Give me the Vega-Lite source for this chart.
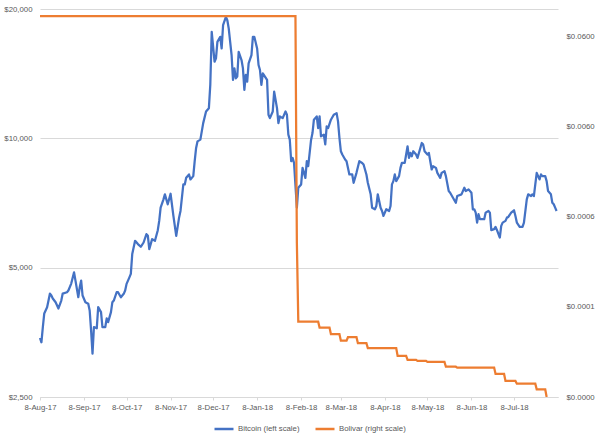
{
  "$schema": "https://vega.github.io/schema/vega-lite/v6.json",
  "width": 518,
  "height": 388,
  "autosize": {"type": "none"},
  "padding": {"left": 40, "top": 9, "right": 44, "bottom": 40},
  "background": "white",
  "config": {
    "view": {"stroke": null},
    "font": "Liberation Sans",
    "axis": {"labelColor": "#595959", "labelFontSize": 7.8, "title": null, "labelFont": "Liberation Sans"},
    "legend": {"labelFont": "Liberation Sans"}
  },
  "datasets": {
    "btc": [
      {"date": "2017-08-08", "price": 3430}, {"date": "2017-08-09", "price": 3352}, {"date": "2017-08-10", "price": 3637}, {"date": "2017-08-11", "price": 3912},
      {"date": "2017-08-13", "price": 4046}, {"date": "2017-08-14", "price": 4193}, {"date": "2017-08-15", "price": 4352}, {"date": "2017-08-16", "price": 4307},
      {"date": "2017-08-17", "price": 4238}, {"date": "2017-08-19", "price": 4155}, {"date": "2017-08-21", "price": 4018}, {"date": "2017-08-23", "price": 4193},
      {"date": "2017-08-24", "price": 4352}, {"date": "2017-08-27", "price": 4383}, {"date": "2017-08-28", "price": 4423}, {"date": "2017-08-30", "price": 4591},
      {"date": "2017-09-01", "price": 4876}, {"date": "2017-09-02", "price": 4665}, {"date": "2017-09-04", "price": 4268}, {"date": "2017-09-05", "price": 4502},
      {"date": "2017-09-06", "price": 4665}, {"date": "2017-09-07", "price": 4307}, {"date": "2017-09-09", "price": 4155}, {"date": "2017-09-11", "price": 4121},
      {"date": "2017-09-12", "price": 3975}, {"date": "2017-09-13", "price": 3573}, {"date": "2017-09-14", "price": 3155}, {"date": "2017-09-15", "price": 3637},
      {"date": "2017-09-17", "price": 3612}, {"date": "2017-09-18", "price": 4046}, {"date": "2017-09-20", "price": 3940}, {"date": "2017-09-21", "price": 3637},
      {"date": "2017-09-23", "price": 3637}, {"date": "2017-09-24", "price": 3810}, {"date": "2017-09-25", "price": 3735}, {"date": "2017-09-27", "price": 3940},
      {"date": "2017-09-28", "price": 4155}, {"date": "2017-09-29", "price": 4193}, {"date": "2017-10-01", "price": 4383}, {"date": "2017-10-02", "price": 4383},
      {"date": "2017-10-04", "price": 4268}, {"date": "2017-10-06", "price": 4346}, {"date": "2017-10-07", "price": 4423}, {"date": "2017-10-08", "price": 4584},
      {"date": "2017-10-10", "price": 4747}, {"date": "2017-10-11", "price": 4835}, {"date": "2017-10-12", "price": 5379}, {"date": "2017-10-14", "price": 5774},
      {"date": "2017-10-16", "price": 5673}, {"date": "2017-10-18", "price": 5592}, {"date": "2017-10-20", "price": 5722}, {"date": "2017-10-22", "price": 5984},
      {"date": "2017-10-23", "price": 5930}, {"date": "2017-10-24", "price": 5524}, {"date": "2017-10-26", "price": 5827}, {"date": "2017-10-28", "price": 5774},
      {"date": "2017-10-30", "price": 6113}, {"date": "2017-10-31", "price": 6425}, {"date": "2017-11-01", "price": 6896}, {"date": "2017-11-03", "price": 7212},
      {"date": "2017-11-04", "price": 7407}, {"date": "2017-11-06", "price": 7022}, {"date": "2017-11-08", "price": 7430}, {"date": "2017-11-10", "price": 6598},
      {"date": "2017-11-12", "price": 5930}, {"date": "2017-11-14", "price": 6538}, {"date": "2017-11-15", "price": 6776}, {"date": "2017-11-17", "price": 7812},
      {"date": "2017-11-18", "price": 7812}, {"date": "2017-11-19", "price": 8092}, {"date": "2017-11-21", "price": 8240}, {"date": "2017-11-22", "price": 8024},
      {"date": "2017-11-24", "price": 8167}, {"date": "2017-11-25", "price": 8846}, {"date": "2017-11-26", "price": 9497}, {"date": "2017-11-27", "price": 9840},
      {"date": "2017-11-29", "price": 9930}, {"date": "2017-12-01", "price": 10850}, {"date": "2017-12-03", "price": 11550}, {"date": "2017-12-05", "price": 11756},
      {"date": "2017-12-06", "price": 13338}, {"date": "2017-12-07", "price": 17694}, {"date": "2017-12-09", "price": 15077}, {"date": "2017-12-10", "price": 15346},
      {"date": "2017-12-11", "price": 16773}, {"date": "2017-12-13", "price": 17228}, {"date": "2017-12-14", "price": 16185}, {"date": "2017-12-15", "price": 18336},
      {"date": "2017-12-17", "price": 19165}, {"date": "2017-12-18", "price": 18831}, {"date": "2017-12-19", "price": 18006}, {"date": "2017-12-20", "price": 16773},
      {"date": "2017-12-21", "price": 15626}, {"date": "2017-12-22", "price": 13676}, {"date": "2017-12-23", "price": 14548}, {"date": "2017-12-24", "price": 13792},
      {"date": "2017-12-25", "price": 13918}, {"date": "2017-12-26", "price": 15903}, {"date": "2017-12-28", "price": 15215}, {"date": "2017-12-29", "price": 14548},
      {"date": "2017-12-30", "price": 12966}, {"date": "2017-12-31", "price": 14044}, {"date": "2018-01-01", "price": 13551}, {"date": "2018-01-02", "price": 14941},
      {"date": "2018-01-04", "price": 15626}, {"date": "2018-01-05", "price": 17228}, {"date": "2018-01-06", "price": 17228}, {"date": "2018-01-08", "price": 16185},
      {"date": "2018-01-09", "price": 14813}, {"date": "2018-01-10", "price": 14423}, {"date": "2018-01-11", "price": 13315}, {"date": "2018-01-12", "price": 14166},
      {"date": "2018-01-15", "price": 13676}, {"date": "2018-01-16", "price": 11349}, {"date": "2018-01-17", "price": 11145}, {"date": "2018-01-19", "price": 11550},
      {"date": "2018-01-20", "price": 12848}, {"date": "2018-01-22", "price": 11756}, {"date": "2018-01-23", "price": 10850}, {"date": "2018-01-24", "price": 11245},
      {"date": "2018-01-26", "price": 11145}, {"date": "2018-01-28", "price": 11550}, {"date": "2018-01-29", "price": 11349}, {"date": "2018-01-30", "price": 10200},
      {"date": "2018-01-31", "price": 9930}, {"date": "2018-02-01", "price": 8846}, {"date": "2018-02-02", "price": 9003}, {"date": "2018-02-03", "price": 8765},
      {"date": "2018-02-05", "price": 6896}, {"date": "2018-02-06", "price": 7672}, {"date": "2018-02-08", "price": 7812}, {"date": "2018-02-09", "price": 8535},
      {"date": "2018-02-11", "price": 8092}, {"date": "2018-02-12", "price": 8846}, {"date": "2018-02-13", "price": 8613}, {"date": "2018-02-15", "price": 9915},
      {"date": "2018-02-16", "price": 10287}, {"date": "2018-02-17", "price": 11050}, {"date": "2018-02-19", "price": 11245}, {"date": "2018-02-20", "price": 10566},
      {"date": "2018-02-21", "price": 11245}, {"date": "2018-02-22", "price": 10108}, {"date": "2018-02-24", "price": 10200}, {"date": "2018-02-25", "price": 9686},
      {"date": "2018-02-26", "price": 10660}, {"date": "2018-02-27", "price": 10566}, {"date": "2018-03-01", "price": 11050}, {"date": "2018-03-03", "price": 11349},
      {"date": "2018-03-05", "price": 11445}, {"date": "2018-03-06", "price": 10950}, {"date": "2018-03-07", "price": 10017}, {"date": "2018-03-08", "price": 9330},
      {"date": "2018-03-09", "price": 9168}, {"date": "2018-03-11", "price": 8927}, {"date": "2018-03-12", "price": 8846}, {"date": "2018-03-14", "price": 8240},
      {"date": "2018-03-16", "price": 8240}, {"date": "2018-03-17", "price": 7879}, {"date": "2018-03-19", "price": 8311}, {"date": "2018-03-21", "price": 8846},
      {"date": "2018-03-23", "price": 8765}, {"date": "2018-03-24", "price": 8692}, {"date": "2018-03-26", "price": 8240}, {"date": "2018-03-27", "price": 7879},
      {"date": "2018-03-29", "price": 7407}, {"date": "2018-03-30", "price": 6896}, {"date": "2018-04-01", "price": 6837}, {"date": "2018-04-02", "price": 6959},
      {"date": "2018-04-03", "price": 7407}, {"date": "2018-04-05", "price": 6896}, {"date": "2018-04-06", "price": 6776}, {"date": "2018-04-07", "price": 6598},
      {"date": "2018-04-09", "price": 6837}, {"date": "2018-04-11", "price": 6776}, {"date": "2018-04-12", "price": 6959}, {"date": "2018-04-13", "price": 7812},
      {"date": "2018-04-14", "price": 7951}, {"date": "2018-04-15", "price": 8240}, {"date": "2018-04-16", "price": 7951}, {"date": "2018-04-18", "price": 8167},
      {"date": "2018-04-19", "price": 8535}, {"date": "2018-04-20", "price": 8765}, {"date": "2018-04-22", "price": 8765}, {"date": "2018-04-23", "price": 9168},
      {"date": "2018-04-24", "price": 9583}, {"date": "2018-04-25", "price": 9003}, {"date": "2018-04-26", "price": 9247}, {"date": "2018-04-27", "price": 9085},
      {"date": "2018-04-28", "price": 9330}, {"date": "2018-04-30", "price": 9168}, {"date": "2018-05-01", "price": 9003}, {"date": "2018-05-03", "price": 9497},
      {"date": "2018-05-04", "price": 9753}, {"date": "2018-05-05", "price": 9669}, {"date": "2018-05-06", "price": 9330}, {"date": "2018-05-08", "price": 9168},
      {"date": "2018-05-09", "price": 9247}, {"date": "2018-05-11", "price": 8464}, {"date": "2018-05-12", "price": 8613}, {"date": "2018-05-14", "price": 8535},
      {"date": "2018-05-15", "price": 8311}, {"date": "2018-05-17", "price": 8092}, {"date": "2018-05-18", "price": 8311}, {"date": "2018-05-20", "price": 8387},
      {"date": "2018-05-21", "price": 8167}, {"date": "2018-05-23", "price": 7538}, {"date": "2018-05-24", "price": 7471}, {"date": "2018-05-26", "price": 7274},
      {"date": "2018-05-28", "price": 7082}, {"date": "2018-05-29", "price": 7340}, {"date": "2018-06-01", "price": 7407}, {"date": "2018-06-03", "price": 7672},
      {"date": "2018-06-04", "price": 7538}, {"date": "2018-06-06", "price": 7607}, {"date": "2018-06-08", "price": 7471}, {"date": "2018-06-09", "price": 6837},
      {"date": "2018-06-10", "price": 6837}, {"date": "2018-06-11", "price": 6715}, {"date": "2018-06-12", "price": 6366}, {"date": "2018-06-13", "price": 6658},
      {"date": "2018-06-14", "price": 6482}, {"date": "2018-06-15", "price": 6482}, {"date": "2018-06-17", "price": 6482}, {"date": "2018-06-18", "price": 6715},
      {"date": "2018-06-20", "price": 6776}, {"date": "2018-06-21", "price": 6715}, {"date": "2018-06-22", "price": 6113}, {"date": "2018-06-24", "price": 6146},
      {"date": "2018-06-25", "price": 6222}, {"date": "2018-06-26", "price": 6113}, {"date": "2018-06-28", "price": 5877}, {"date": "2018-06-29", "price": 6255},
      {"date": "2018-06-30", "price": 6366}, {"date": "2018-07-02", "price": 6425}, {"date": "2018-07-03", "price": 6538}, {"date": "2018-07-04", "price": 6563},
      {"date": "2018-07-06", "price": 6715}, {"date": "2018-07-08", "price": 6801}, {"date": "2018-07-09", "price": 6598}, {"date": "2018-07-10", "price": 6366},
      {"date": "2018-07-12", "price": 6222}, {"date": "2018-07-14", "price": 6222}, {"date": "2018-07-15", "price": 6366}, {"date": "2018-07-17", "price": 7212},
      {"date": "2018-07-18", "price": 7407}, {"date": "2018-07-20", "price": 7340}, {"date": "2018-07-21", "price": 7407}, {"date": "2018-07-22", "price": 7340},
      {"date": "2018-07-23", "price": 7812}, {"date": "2018-07-24", "price": 8311}, {"date": "2018-07-26", "price": 8024}, {"date": "2018-07-27", "price": 8240},
      {"date": "2018-07-28", "price": 8167}, {"date": "2018-07-30", "price": 8167}, {"date": "2018-07-31", "price": 7951}, {"date": "2018-08-01", "price": 7538},
      {"date": "2018-08-03", "price": 7407}, {"date": "2018-08-04", "price": 7082}, {"date": "2018-08-05", "price": 7022}, {"date": "2018-08-06", "price": 6896},
      {"date": "2018-08-07", "price": 6776}
    ],
    "bol": [
      {"date": "2017-08-08", "rate": 0.1}, {"date": "2018-02-04", "rate": 0.1}, {"date": "2018-02-05", "rate": 0.000306},
      {"date": "2018-02-06", "rate": 0.0000412}, {"date": "2018-02-20", "rate": 0.0000412},
      {"date": "2018-02-21", "rate": 0.0000353}, {"date": "2018-02-28", "rate": 0.0000353},
      {"date": "2018-03-01", "rate": 0.0000298}, {"date": "2018-03-07", "rate": 0.0000298},
      {"date": "2018-03-08", "rate": 0.0000253}, {"date": "2018-03-12", "rate": 0.0000253},
      {"date": "2018-03-13", "rate": 0.0000276}, {"date": "2018-03-19", "rate": 0.0000276},
      {"date": "2018-03-20", "rate": 0.0000237}, {"date": "2018-03-26", "rate": 0.0000237},
      {"date": "2018-03-27", "rate": 0.0000209}, {"date": "2018-04-16", "rate": 0.0000209},
      {"date": "2018-04-17", "rate": 0.0000171}, {"date": "2018-04-23", "rate": 0.0000171},
      {"date": "2018-04-24", "rate": 0.0000155}, {"date": "2018-04-30", "rate": 0.0000155},
      {"date": "2018-05-01", "rate": 0.0000151}, {"date": "2018-05-07", "rate": 0.0000151},
      {"date": "2018-05-08", "rate": 0.0000147}, {"date": "2018-05-20", "rate": 0.0000147},
      {"date": "2018-05-21", "rate": 0.0000130}, {"date": "2018-05-28", "rate": 0.0000130},
      {"date": "2018-05-29", "rate": 0.0000127}, {"date": "2018-06-24", "rate": 0.0000127},
      {"date": "2018-06-25", "rate": 0.0000108}, {"date": "2018-07-01", "rate": 0.0000108},
      {"date": "2018-07-02", "rate": 0.00000904}, {"date": "2018-07-09", "rate": 0.00000904},
      {"date": "2018-07-10", "rate": 0.00000843}, {"date": "2018-07-23", "rate": 0.00000843},
      {"date": "2018-07-24", "rate": 0.00000731}, {"date": "2018-07-30", "rate": 0.00000731},
      {"date": "2018-07-31", "rate": 0.000006}
    ]
  },
  "layer": [
    {
      "data": {"name": "btc"},
      "mark": {"type": "line", "strokeWidth": 2.25, "strokeJoin": "round"},
      "encoding": {
        "x": {
          "field": "date", "type": "temporal",
          "scale": {"domain": [{"year": 2017, "month": 8, "date": 8}, {"year": 2018, "month": 8, "date": 8}]},
          "axis": {
            "values": [
              {"year": 2017, "month": 8, "date": 8}, {"year": 2017, "month": 9, "date": 8}, {"year": 2017, "month": 10, "date": 8},
              {"year": 2017, "month": 11, "date": 8}, {"year": 2017, "month": 12, "date": 8}, {"year": 2018, "month": 1, "date": 8},
              {"year": 2018, "month": 2, "date": 8}, {"year": 2018, "month": 3, "date": 8}, {"year": 2018, "month": 4, "date": 8},
              {"year": 2018, "month": 5, "date": 8}, {"year": 2018, "month": 6, "date": 8}, {"year": 2018, "month": 7, "date": 8}
            ],
            "format": "%-d-%b-%y",
            "labelFlush": false, "labelOverlap": false, "labelBound": false,
            "grid": false, "domainColor": "#d9d9d9", "tickColor": "#d9d9d9", "tickSize": 3,
            "labelPadding": 3
          }
        },
        "y": {
          "field": "price", "type": "quantitative",
          "scale": {"type": "log", "domain": [2500, 20000], "nice": false},
          "axis": {
            "orient": "left", "values": [2500, 5000, 10000, 20000], "format": "$,.0f",
            "grid": true, "gridColor": "#d9d9d9", "domain": false, "ticks": false, "labelPadding": 8
          }
        },
        "color": {
          "datum": "Bitcoin (left scale)", "type": "nominal",
          "scale": {"domain": ["Bitcoin (left scale)", "Bolivar (right scale)"], "range": ["#4472C4", "#ED7D31"]},
          "legend": {
            "orient": "none", "legendX": 173, "legendY": 409, "direction": "horizontal", "title": null,
            "symbolType": "stroke", "symbolStrokeWidth": 2.5, "symbolSize": 361,
            "labelFontSize": 7.8, "labelColor": "#595959", "labelOffset": 3, "columnPadding": 10
          }
        }
      }
    },
    {
      "data": {"name": "bol"},
      "mark": {"type": "line", "strokeWidth": 2.25, "clip": true},
      "encoding": {
        "x": {"field": "date", "type": "temporal"},
        "y": {
          "field": "rate", "type": "quantitative",
          "scale": {"type": "log", "domain": [0.000006, 0.12], "nice": false},
          "axis": {
            "orient": "right", "values": [0.000006, 0.00006, 0.0006, 0.006, 0.06], "format": "$.4f",
            "grid": false, "domain": false, "ticks": false, "labelPadding": 8
          }
        },
        "color": {"datum": "Bolivar (right scale)", "type": "nominal"}
      }
    }
  ],
  "resolve": {"scale": {"y": "independent"}}
}
